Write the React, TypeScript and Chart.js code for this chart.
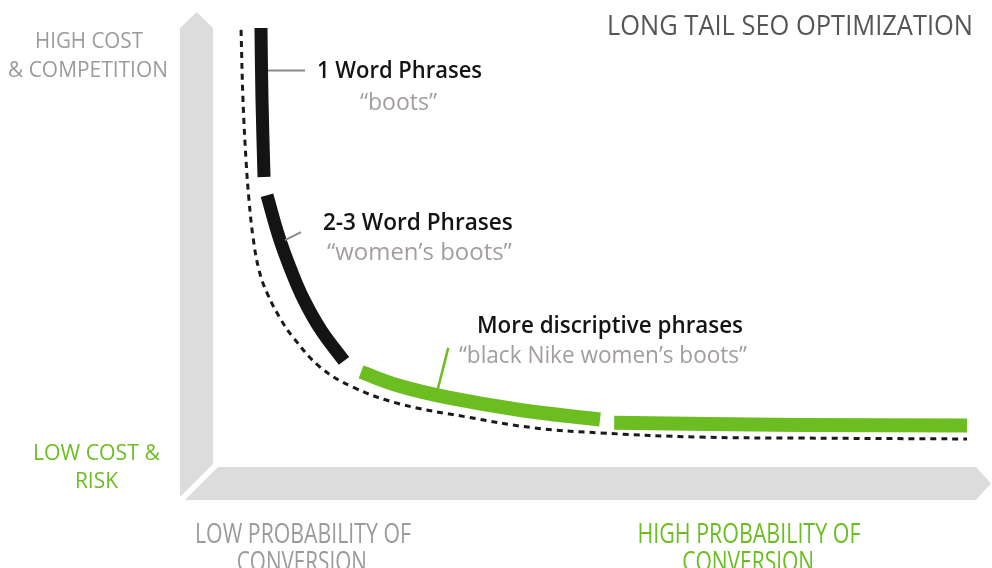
import React, { useEffect, useRef } from 'react';
import { Chart, registerables } from 'chart.js';

Chart.register(...registerables);

// Dashed reference curve (cost vs. phrase specificity)
const baselineX = [3.6, 3.85, 4.24, 4.62, 5.13, 5.9, 6.93, 8.6, 10.27, 13.74, 17.97, 24.0, 32.6, 41.1, 49.7, 62.5, 75.4, 96.8];
const baselineY = [93.6, 78.6, 65.7, 57.2, 49.3, 42.2, 37.3, 31.9, 27.8, 21.4, 17.1, 13.5, 10.7, 8.4, 7.3, 6.4, 6.2, 6.0];

// 1 word phrases segment
const oneWordX = [6.16, 6.29, 6.55];
const oneWordY = [94.0, 78.6, 62.1];

// 2-3 word phrases segment
const twoThreeX = [6.93, 8.47, 10.01, 11.68, 13.86, 16.82];
const twoThreeY = [58.2, 49.25, 42.18, 35.76, 29.34, 22.7];

// More descriptive phrases (two green segments)
const descAX = [19.0, 24.0, 30.42, 39.41, 49.68];
const descAY = [20.34, 17.34, 14.78, 12.21, 10.17];
const descBX = [51.5, 75.4, 96.8];
const descBY = [9.5, 9.0, 8.9];

// Leader lines
const leader1X = [7.06, 11.81];
const leader1Y = [84.9, 84.9];
const leader2X = [9.24, 11.3];
const leader2Y = [48.6, 50.3];
const leader3X = [28.75, 30.2];
const leader3Y = [16.0, 25.5];

const GREEN = '#6cbd22';
const BLACK = '#141414';
const QUOTE_GRAY = '#a39d9d';
const AXIS_GRAY = '#9b9b9b';

// Text annotations (data coordinates; target width px, font px)
const labelTexts = [
  'LONG TAIL SEO OPTIMIZATION',
  '1 Word Phrases', '\u201Cboots\u201D',
  '2-3 Word Phrases', '\u201Cwomen\u2019s boots\u201D',
  'More discriptive phrases', '\u201Cblack Nike women\u2019s boots\u201D',
  'HIGH COST', '& COMPETITION',
  'LOW COST &', 'RISK',
  'LOW PROBABILITY OF', 'CONVERSION',
  'HIGH PROBABILITY OF', 'CONVERSION',
];
const labelX = [74.07, 23.94, 23.81, 26.3, 26.5, 50.96, 50.06, -15.92, -16.05, -14.96, -14.96, 11.55, 11.4, 68.8, 68.7];
const labelY = [92.5, 83.3, 76.4, 50.75, 44.3, 28.7, 22.3, 89.7, 83.5, 1.5, -4.5, -16.3, -22.3, -16.3, -22.3];
const labelColors = ['#555555', BLACK, QUOTE_GRAY, BLACK, QUOTE_GRAY, BLACK, QUOTE_GRAY, AXIS_GRAY, AXIS_GRAY, GREEN, GREEN, AXIS_GRAY, AXIS_GRAY, GREEN, GREEN];
const labelSizes = [27, 23, 23, 23, 23, 23, 23, 22, 22, 22, 22, 28, 28, 28, 28];
const labelWeights = [400, 600, 500, 600, 500, 600, 500, 400, 400, 500, 500, 400, 400, 400, 400];
const labelWidths = [366, 165, 77, 190, 185, 266, 288, 108, 160, 127, 43, 216, 130, 223, 132];

const toPts = (xs: number[], ys: number[]) => xs.map((x, i) => ({ x, y: ys[i] }));

const arrowsPlugin = {
  id: 'arrows',
  beforeDatasetsDraw(chart: any) {
    const { ctx, chartArea } = chart;
    const L = chartArea.left;
    const B = chartArea.bottom;
    const R = chartArea.right;
    const T = 33;
    ctx.save();
    ctx.fillStyle = '#dcdcdc';
    // vertical arrow
    ctx.beginPath();
    ctx.moveTo(L - T, 28);
    ctx.lineTo(L - T / 2, 12);
    ctx.lineTo(L, 28);
    ctx.lineTo(L, B - 3);
    ctx.lineTo(L - T, B + 30);
    ctx.closePath();
    ctx.fill();
    // horizontal arrow
    ctx.beginPath();
    ctx.moveTo(L + 5, B);
    ctx.lineTo(R - 16, B);
    ctx.lineTo(R - 1, B + T / 2);
    ctx.lineTo(R - 16, B + T);
    ctx.lineTo(L - 28, B + T);
    ctx.closePath();
    ctx.fill();
    ctx.restore();
  },
};

const labelsPlugin = {
  id: 'labelsText',
  afterDraw(chart: any) {
    const { ctx } = chart;
    const xs = chart.scales.x;
    const ys = chart.scales.y;
    labelTexts.forEach((t, i) => {
      const cx = xs.getPixelForValue(labelX[i]);
      const by = ys.getPixelForValue(labelY[i]);
      ctx.save();
      ctx.font = `${labelWeights[i]} ${labelSizes[i]}px "Open Sans", "DejaVu Sans", sans-serif`;
      const m = ctx.measureText(t).width;
      const sx = labelWidths[i] / m;
      ctx.translate(cx, by);
      ctx.scale(sx, 1);
      ctx.fillStyle = labelColors[i];
      ctx.textAlign = 'center';
      ctx.textBaseline = 'alphabetic';
      ctx.fillText(t, 0, 0);
      ctx.restore();
    });
  },
};

export default function App() {
  const ref = useRef<HTMLCanvasElement | null>(null);
  useEffect(() => {
    if (!ref.current) return;
    const seg = (xs: number[], ys: number[], color: string, width: number, dash: number[] = []) => ({
      data: toPts(xs, ys),
      showLine: true,
      borderColor: color,
      backgroundColor: color,
      borderWidth: width,
      borderDash: dash,
      borderCapStyle: 'butt',
      borderJoinStyle: 'round',
      pointRadius: 0,
      tension: 0.4,
      clip: false,
    });
    const chart = new Chart(ref.current, {
      type: 'scatter',
      data: {
        datasets: [
          seg(baselineX, baselineY, '#1a1a1a', 3, [6, 5]),
          seg(leader1X, leader1Y, '#8a8a8a', 2),
          seg(leader2X, leader2Y, '#8a8a8a', 2),
          seg(leader3X, leader3Y, GREEN, 2.5),
          seg(oneWordX, oneWordY, BLACK, 13),
          seg(twoThreeX, twoThreeY, BLACK, 13),
          seg(descAX, descAY, GREEN, 14),
          seg(descBX, descBY, GREEN, 14),
        ] as any,
      },
      options: {
        animation: false,
        responsive: true,
        maintainAspectRatio: false,
        events: [],
        layout: { padding: { left: 213, right: 0, top: 0, bottom: 101 } },
        scales: {
          x: { type: 'linear', min: 0, max: 100, display: false },
          y: { type: 'linear', min: 0, max: 100, display: false },
        },
        plugins: {
          legend: { display: false },
          tooltip: { enabled: false },
        },
      },
      plugins: [arrowsPlugin, labelsPlugin],
    });
    return () => chart.destroy();
  }, []);
  return (
    <div style={{ position: 'fixed', left: 0, top: 0, width: 992, height: 568, background: '#fff' }}>
      <canvas ref={ref} />
    </div>
  );
}
